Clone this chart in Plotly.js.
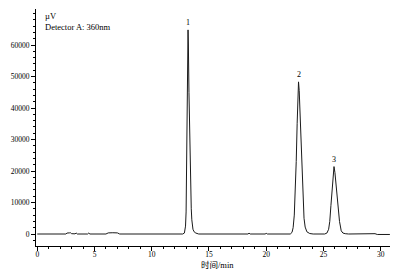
<!DOCTYPE html>
<html>
<head>
<meta charset="utf-8">
<script src="https://cdn.plot.ly/plotly-3.0.1.min.js"></script>
<style>html,body{margin:0;padding:0;background:#fff;}#chart{width:403px;height:272px;}</style>
</head>
<body>
<div id="chart"></div>
<script>
// Retention time (min) and detector signal (µV)
const timeMin = [
  0, 2.5, 2.6, 2.7, 2.8, 2.9, 3.0, 3.3, 3.4, 3.5, 4.4, 4.5, 4.6,
  6.0, 6.2, 6.6, 7.0, 7.2, 12.7,
  12.85, 12.95, 13.00, 13.05, 13.10, 13.14, 13.17, 13.20, 13.25, 13.30, 13.35, 13.40, 13.45, 13.50, 13.60, 13.70, 13.85, 14.10,
  16.0, 16.1, 16.2, 18.4, 18.5, 18.6, 19.9, 20.0, 20.1,
  22.10, 22.25, 22.35, 22.45, 22.55, 22.62, 22.70, 22.76, 22.82, 22.88, 22.95, 23.03, 23.10, 23.20, 23.30, 23.40, 23.55, 23.80, 24.10,
  25.10, 25.30, 25.45, 25.55, 25.65, 25.75, 25.83, 25.92, 26.00, 26.08, 26.18, 26.28, 26.40, 26.55, 26.70, 26.90, 27.20,
  29.5, 29.7, 30.8
];
const signalUV = [
  0, 0, 300, 450, 350, 400, 100, 50, 300, 0, 0, 300, 0,
  0, 350, 400, 350, 0, 0,
  300, 2500, 7000, 20000, 38000, 55000, 64800, 60000, 45000, 34000, 23000, 14000, 8000, 4500, 1500, 700, 300, 0,
  0, 200, 0, 0, 250, 0, 0, 200, 0,
  0, 500, 2000, 6000, 14000, 23000, 35000, 44000, 48300, 45500, 38000, 28000, 20000, 11000, 5000, 2200, 700, 150, 0,
  0, 300, 1500, 4000, 9000, 15000, 18500, 21400, 19500, 16000, 12500, 8000, 4000, 1000, 300, 100, 0,
  100, -150, -150
];
// Axis tick values
const yTickVals = [0, 10000, 20000, 30000, 40000, 50000, 60000];
const xTickVals = [0, 5, 10, 15, 20, 25, 30];
// Peak labels
const peakLabels = ['1', '2', '3'];
const peakTimes = [13.17, 22.82, 25.92];
const peakHeights = [64800, 48300, 21400];

const serif = 'Liberation Serif, Times New Roman, serif';

const trace = {
  x: timeMin, y: signalUV, type: 'scatter', mode: 'lines',
  line: {color: '#1a1a1a', width: 1}, hoverinfo: 'skip'
};

const annotations = peakLabels.map((t, i) => ({
  x: peakTimes[i], y: peakHeights[i], xref: 'x', yref: 'y',
  text: t, showarrow: false, yanchor: 'bottom', yshift: 1,
  font: {family: serif, size: 8, color: '#000'}
}));
annotations.push(
  {xref: 'paper', yref: 'paper', x: 0.0198, y: 0.9705, xanchor: 'left', yanchor: 'middle',
   text: 'µV', showarrow: false, font: {family: serif, size: 8.5, color: '#000'}},
  {xref: 'paper', yref: 'paper', x: 0.0198, y: 0.924, xanchor: 'left', yanchor: 'middle',
   text: 'Detector A: 360nm', showarrow: false, font: {family: serif, size: 8.5, color: '#000'}},
  {xref: 'paper', yref: 'paper', x: 0.514, y: -0.082, xanchor: 'center', yanchor: 'middle',
   text: '时间/min', showarrow: false, font: {family: serif + ', Noto Sans CJK SC', size: 8.5, color: '#000'}}
);

const layout = {
  width: 403, height: 272,
  margin: {l: 36, r: 13, t: 9, b: 26, pad: 0},
  paper_bgcolor: '#fff', plot_bgcolor: '#fff',
  showlegend: false,
  xaxis: {
    range: [-0.11, 30.81], showline: true, linecolor: '#000', linewidth: 1,
    ticks: 'outside', ticklen: 4, tickwidth: 1, tickcolor: '#000',
    tickmode: 'array', tickvals: xTickVals, ticktext: xTickVals.map(String),
    showgrid: false, zeroline: false, ticklabelstandoff: -3,
    minor: {tickmode: 'linear', tick0: 0, dtick: 1, ticks: 'outside', ticklen: 2, tickcolor: '#000', showgrid: false},
    tickfont: {family: serif, size: 7.5, color: '#000'}
  },
  yaxis: {
    range: [-3810, 71430], showline: true, linecolor: '#000', linewidth: 1,
    ticks: 'outside', ticklen: 4, tickwidth: 1, tickcolor: '#000',
    tickmode: 'array', tickvals: yTickVals, ticktext: yTickVals.map(String),
    showgrid: false, zeroline: false,
    minor: {tickmode: 'linear', tick0: 0, dtick: 2000, ticks: 'outside', ticklen: 2, tickcolor: '#000', showgrid: false},
    tickfont: {family: serif, size: 7.5, color: '#000'}
  },
  annotations: annotations
};

Plotly.newPlot('chart', [trace], layout, {displayModeBar: false, staticPlot: true});
</script>
</body>
</html>
